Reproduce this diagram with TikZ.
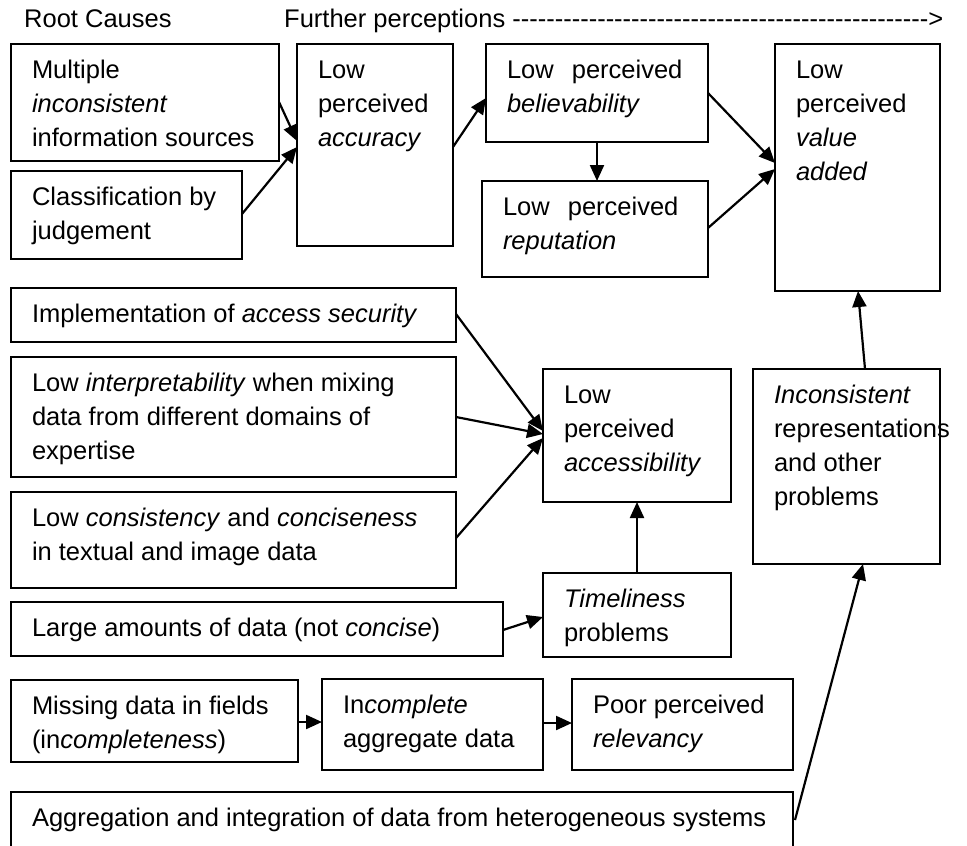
\documentclass[tikz,border=0pt]{standalone}
\usepackage{fontspec}
\setmainfont{Liberation Sans}
\newfontfamily\hdrfont{Liberation Sans}[Ligatures=TeXOff]
\usetikzlibrary{arrows.meta}

\newcommand\boxfont{\fontsize{25.5pt}{34pt}\selectfont}
% box: name, left, top, right, bottom, text (text hangs from the top-left corner)
\newcommand\mkbox[6]{%
  \pgfmathsetmacro\bxw{#4-#2}%
  \pgfmathsetmacro\bxh{#5-#3}%
  \node[qbox] (#1) at (#2,#3) {\parbox[c][\bxh pt][t]{\bxw pt}{\boxfont
    \hyphenpenalty=10000 \exhyphenpenalty=10000
    \parindent=0pt \leftskip=21pt \rightskip=0pt plus 1fil
    \rule{0pt}{34pt}#6}};}

\tikzset{
  qbox/.style={draw, line width=1.8pt, inner sep=0pt, outer sep=0pt, anchor=north west},
  arr/.style={line width=2.2pt, -{Triangle[length=16pt,width=14pt]}},
  hdr/.style={inner sep=0pt, anchor=base west, font=\hdrfont\fontsize{25.5pt}{34pt}\selectfont}
}

\begin{document}
\begin{tikzpicture}[x=1pt, y=-1pt]
\useasboundingbox (0,0) rectangle (967,846);
\clip (0,0) rectangle (967,846);

% headings
\node[hdr] (hdrL) at (24,27) {Root Causes};
\node[hdr] (hdrR) at (284,27) {Further perceptions ------------------------------------------------->};

% boxes
\mkbox{mult}{11}{44}{279}{161}{Multiple\\\textit{inconsistent}\\information sources}
\mkbox{class}{11}{171}{242}{259}{Classification by\\judgement}
\mkbox{acc}{297}{44}{453}{246}{Low\\perceived\\\textit{accuracy}}
\mkbox{bel}{486}{44}{708}{142}{Low\hspace{11pt} perceived\\\textit{believability}}
\mkbox{rep}{482}{181}{708}{277}{Low\hspace{11pt} perceived\\\textit{reputation}}
\mkbox{val}{775}{44}{940}{291}{Low\\perceived\\\textit{value}\\\textit{added}}
\mkbox{impl}{11}{288}{456}{342}{Implementation of \textit{access security}}
\mkbox{interp}{11}{357}{456}{477}{Low \textit{interpretability} when mixing\\data from different domains of\\expertise}
\mkbox{cons}{11}{492}{456}{588}{Low \textit{consistency} and \textit{conciseness}\\in textual and image data}
\mkbox{accs}{543}{369}{731}{502}{Low\\perceived\\\textit{accessibility}}
\mkbox{incons}{753}{369}{940}{564}{\textit{Inconsistent}\\representations\\and other\\problems}
\mkbox{time}{543}{573}{731}{657}{\textit{Timeliness}\\problems}
\mkbox{large}{11}{602}{503}{656}{Large amounts of data (not \textit{concise})}
\mkbox{miss}{11}{680}{298}{762}{Missing data in fields\\(in\textit{completeness})}
\mkbox{incomp}{322}{679}{543}{770}{In\textit{complete}\\aggregate data}
\mkbox{poor}{572}{679}{793}{770}{Poor perceived\\\textit{relevancy}}
\mkbox{aggr}{11}{792}{793}{870}{Aggregation and integration of data from heterogeneous systems}

% connectors
\draw[arr] ([yshift=-58pt]mult.north east) -- ([yshift=-97pt]acc.north west);
\draw[arr] ([yshift=-43pt]class.north east) -- ([yshift=-103pt]acc.north west);
\draw[arr] ([yshift=-103pt]acc.north east) -- ([yshift=-54pt]bel.north west);
\draw[arr] (bel.south) -- (bel.south |- rep.north);
\draw[arr] ([yshift=-49pt]bel.north east) -- ([yshift=-119pt]val.north west);
\draw[arr] ([yshift=-47pt]rep.north east) -- ([yshift=-125pt]val.north west);
\draw[arr] ([yshift=-26pt]impl.north east) -- ([yshift=-62pt]accs.north west);
\draw[arr] ([yshift=-60pt]interp.north east) -- ([yshift=-65pt]accs.north west);
\draw[arr] ([yshift=-46pt]cons.north east) -- ([yshift=-69pt]accs.north west);
\draw[arr] (time.north) -- (accs.south);
\draw[arr] ([yshift=-28pt]large.north east) -- ([yshift=-44pt]time.north west);
\draw[arr] ([yshift=-42pt]miss.north east) -- ([yshift=-43pt]incomp.north west);
\draw[arr] ([yshift=-44pt]incomp.north east) -- ([yshift=-44pt]poor.north west);
\draw[arr] ([xshift=112pt]incons.north west) -- ([xshift=83pt]val.south west);
\draw[arr] ([xshift=2pt,yshift=-28pt]aggr.north east) -- ([xshift=110pt]incons.south west);
\end{tikzpicture}
\end{document}
